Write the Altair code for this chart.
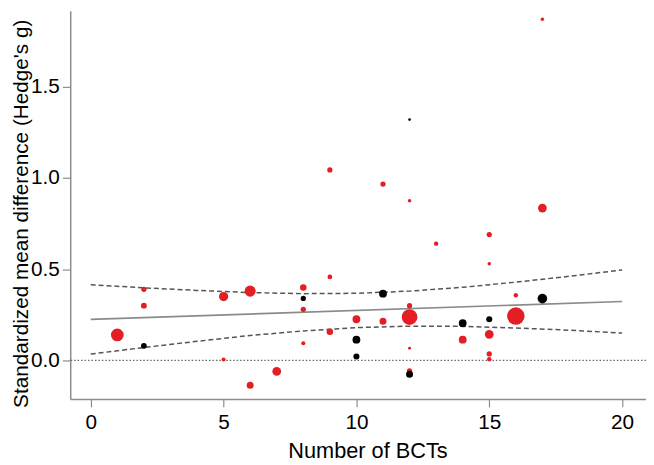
import altair as alt
import pandas as pd

# Study points: number of BCTs, Hedge's g, group colour, study weight
bcts = [1, 2, 2, 2, 5, 5, 6, 6, 7, 8, 8, 8, 8, 9, 9, 9, 10, 10, 10, 11, 11, 11,
        12, 12, 12, 12, 12, 12, 12, 13, 14, 14, 15, 15, 15, 15, 15, 15, 16, 16,
        17, 17, 17]
hedges_g = [0.14, 0.39, 0.30, 0.08, 0.35, 0.005, 0.38, -0.136, -0.06, 0.40, 0.34,
            0.28, 0.094, 0.458, 0.157, 1.044, 0.226, 0.114, 0.022, 0.967, 0.366,
            0.215, 1.32, 0.875, 0.30, 0.238, 0.067, -0.057, -0.076, 0.64, 0.204,
            0.114, 0.69, 0.53, 0.226, 0.143, 0.036, 0.007, 0.357, 0.243, 1.87,
            0.835, 0.339]
group = ["red", "red", "red", "black", "red", "red", "red", "red", "red", "red",
         "black", "red", "red", "red", "red", "red", "red", "black", "black", "red",
         "black", "red", "black", "red", "red", "red", "red", "red", "black", "red",
         "black", "red", "red", "red", "black", "red", "red", "red", "red", "red",
         "red", "red", "black"]
weight = [53, 9, 11, 11, 28, 5.3, 40, 16, 25, 13.7, 9, 9, 5.3, 7.3, 13.7, 9, 20,
          20, 12, 9, 20, 16, 2.3, 4, 9, 81, 2.9, 9, 16, 6.3, 20, 20, 9, 4, 12, 25,
          9, 6.3, 6.3, 100, 4, 25, 30]

# Meta-regression line and confidence band
reg_x = [0, 20]
reg_y = [0.225, 0.323]
ci_x = [0, 2, 4, 6, 8, 10, 12, 14, 16, 18, 20]
ci_upper = [0.415, 0.398, 0.384, 0.372, 0.366, 0.368, 0.380, 0.401, 0.429, 0.461, 0.496]
ci_lower = [0.035, 0.071, 0.105, 0.137, 0.162, 0.180, 0.188, 0.187, 0.178, 0.166, 0.150]

x_ticks = [0, 5, 10, 15, 20]
y_ticks = [0, 0.5, 1.0, 1.5]

pts = pd.DataFrame({"x": bcts, "y": hedges_g, "group": group, "w": weight})
reg = pd.DataFrame({"x": reg_x, "y": reg_y})
ci = pd.DataFrame({"x": ci_x + ci_x, "y": ci_upper + ci_lower,
                   "bound": ["upper"] * len(ci_x) + ["lower"] * len(ci_x)})
zero = pd.DataFrame({"y": [0]})

xs = alt.Scale(domain=[-0.773, 20.9], nice=False, zero=False)
ys = alt.Scale(domain=[-0.211, 1.916], nice=False, zero=False)

x_axis = alt.Axis(values=x_ticks, title="Number of BCTs", labelPadding=5,
                  titleX=301, titleY=59, titleBaseline="alphabetic",
                  titleAlign="center")
y_axis = alt.Axis(values=y_ticks, format=".1f",
                  title="Standardized mean difference (Hedge's g)", labelPadding=3,
                  titleX=-43, titleY=205, titleAlign="center",
                  titleBaseline="alphabetic", titleAngle=-90, titleFontSize=21)

zero_line = alt.Chart(zero).mark_rule(color="#666666", strokeDash=[1.5, 2], strokeWidth=1.2).encode(
    y=alt.Y("y:Q", scale=ys, axis=y_axis)
)

reg_line = alt.Chart(reg).mark_line(color="#8a8a8a", strokeWidth=1.6).encode(
    x=alt.X("x:Q", scale=xs, axis=x_axis),
    y=alt.Y("y:Q", scale=ys, axis=y_axis),
)

ci_lines = alt.Chart(ci).mark_line(color="#555555", strokeWidth=1.5, strokeDash=[5, 3]).encode(
    x=alt.X("x:Q", scale=xs, axis=x_axis),
    y=alt.Y("y:Q", scale=ys, axis=y_axis),
    detail="bound:N",
)

size_scale = alt.Scale(domain=[0, 100], range=[0, 314])

red_pts = alt.Chart(pts).transform_filter(alt.datum.group == "red").mark_circle(
    color="#e31e24", opacity=1
).encode(
    x=alt.X("x:Q", scale=xs, axis=x_axis),
    y=alt.Y("y:Q", scale=ys, axis=y_axis),
    size=alt.Size("w:Q", scale=size_scale, legend=None),
)

black_pts = alt.Chart(pts).transform_filter(alt.datum.group == "black").mark_circle(
    color="#000000", opacity=1
).encode(
    x=alt.X("x:Q", scale=xs, axis=x_axis),
    y=alt.Y("y:Q", scale=ys, axis=y_axis),
    size=alt.Size("w:Q", scale=size_scale, legend=None),
)

chart = alt.layer(zero_line, ci_lines, reg_line, red_pts, black_pts).properties(
    width=583, height=393, autosize="none",
    padding={"left": 63, "top": 0, "right": 0, "bottom": 64},
).configure_view(stroke=None).configure_axis(
    grid=False,
    domainColor="#8c8c8c", domainWidth=1.5,
    tickColor="#8c8c8c", tickWidth=1.2, tickSize=8,
    labelFont="Liberation Sans", labelFontSize=21, labelColor="#000000",
    titleFont="Liberation Sans", titleFontSize=22, titleFontWeight="normal",
    titleColor="#000000",
)

chart.save("out.html", embed_options={"renderer": "svg", "actions": False})
